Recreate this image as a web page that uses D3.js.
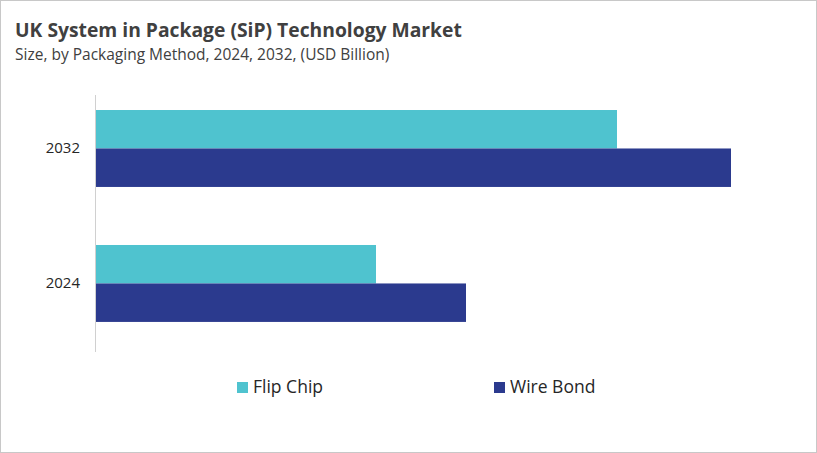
<!DOCTYPE html>
<html>
<head>
<meta charset="utf-8">
<script src="https://cdn.jsdelivr.net/npm/d3@7"></script>
<style>
  body { margin: 0; background: #fff; }
  text { font-family: "Open Sans", "Noto Sans", sans-serif; }
</style>
</head>
<body>
<div id="chart"></div>
<script>
// data (values estimated, no axis in the original)
var years = ["2032", "2024"];
var series = ["Flip Chip", "Wire Bond"];
var flipChip = [5.21, 2.80];
var wireBond = [6.35, 3.70];
var colors = ["#4fc3cf", "#2b3a8e"];

var W = 817, H = 453;
var margin = {top: 95, right: 21, bottom: 101, left: 96},
    width = W - margin.left - margin.right,
    height = H - margin.top - margin.bottom;

var svg = d3.select("#chart")
  .append("svg")
    .attr("width", W)
    .attr("height", H);

// outer border
svg.append("rect")
  .attr("x", 0.5).attr("y", 0.5)
  .attr("width", W - 1).attr("height", H - 1)
  .style("fill", "none")
  .style("stroke", "#c8c8c8");

// title + subtitle
svg.append("text")
  .attr("x", 15).attr("y", 37)
  .style("font-size", "19.3px")
  .style("font-weight", "bold")
  .style("fill", "#404040")
  .text("UK System in Package (SiP) Technology Market");

svg.append("text")
  .attr("x", 15).attr("y", 60)
  .style("font-size", "15.5px")
  .style("fill", "#404040")
  .text("Size, by Packaging Method, 2024, 2032, (USD Billion)");

var g = svg.append("g")
  .attr("transform", "translate(" + margin.left + "," + margin.top + ")");

var rows = years.map(function(y, i) {
  return {year: y, values: [flipChip[i], wireBond[i]]};
});

// scales
var x = d3.scaleLinear()
  .domain([0, 7])
  .range([0, 700]);

var y0 = d3.scaleBand()
  .domain(years)
  .range([0, height])
  .paddingInner(0.43)
  .paddingOuter(0.167)
  .align(0.333);

var y1 = d3.scaleBand()
  .domain(series)
  .range([0, y0.bandwidth()]);

// bars
var grp = g.selectAll(".year")
  .data(rows)
  .enter()
  .append("g")
    .attr("class", "year")
    .attr("transform", function(d) { return "translate(0," + y0(d.year) + ")"; });

grp.selectAll("rect")
  .data(function(d) { return d.values.map(function(v, i) { return {key: series[i], value: v}; }); })
  .enter()
  .append("rect")
    .attr("x", 0)
    .attr("y", function(d) { return y1(d.key); })
    .attr("height", y1.bandwidth())
    .attr("width", function(d) { return x(d.value); })
    .style("fill", function(d, i) { return colors[i]; });

// y axis
var yAxis = g.append("g")
  .call(d3.axisLeft(y0).tickSize(0).tickPadding(16));
yAxis.select(".domain").attr("stroke", "#d0d0d0").attr("d", "M-0.5,0V" + height);
yAxis.selectAll("text")
  .style("font-family", "'Open Sans', 'Noto Sans', sans-serif")
  .style("font-size", "15px")
  .style("fill", "#262626");

// legend
var legendX = [237, 494];
series.forEach(function(s, i) {
  svg.append("rect")
    .attr("x", legendX[i]).attr("y", 382)
    .attr("width", 11).attr("height", 11)
    .style("fill", colors[i]);
  svg.append("text")
    .attr("x", legendX[i] + 16).attr("y", 393)
    .style("font-size", "17.5px")
    .style("fill", "#262626")
    .text(s);
});
</script>
</body>
</html>
